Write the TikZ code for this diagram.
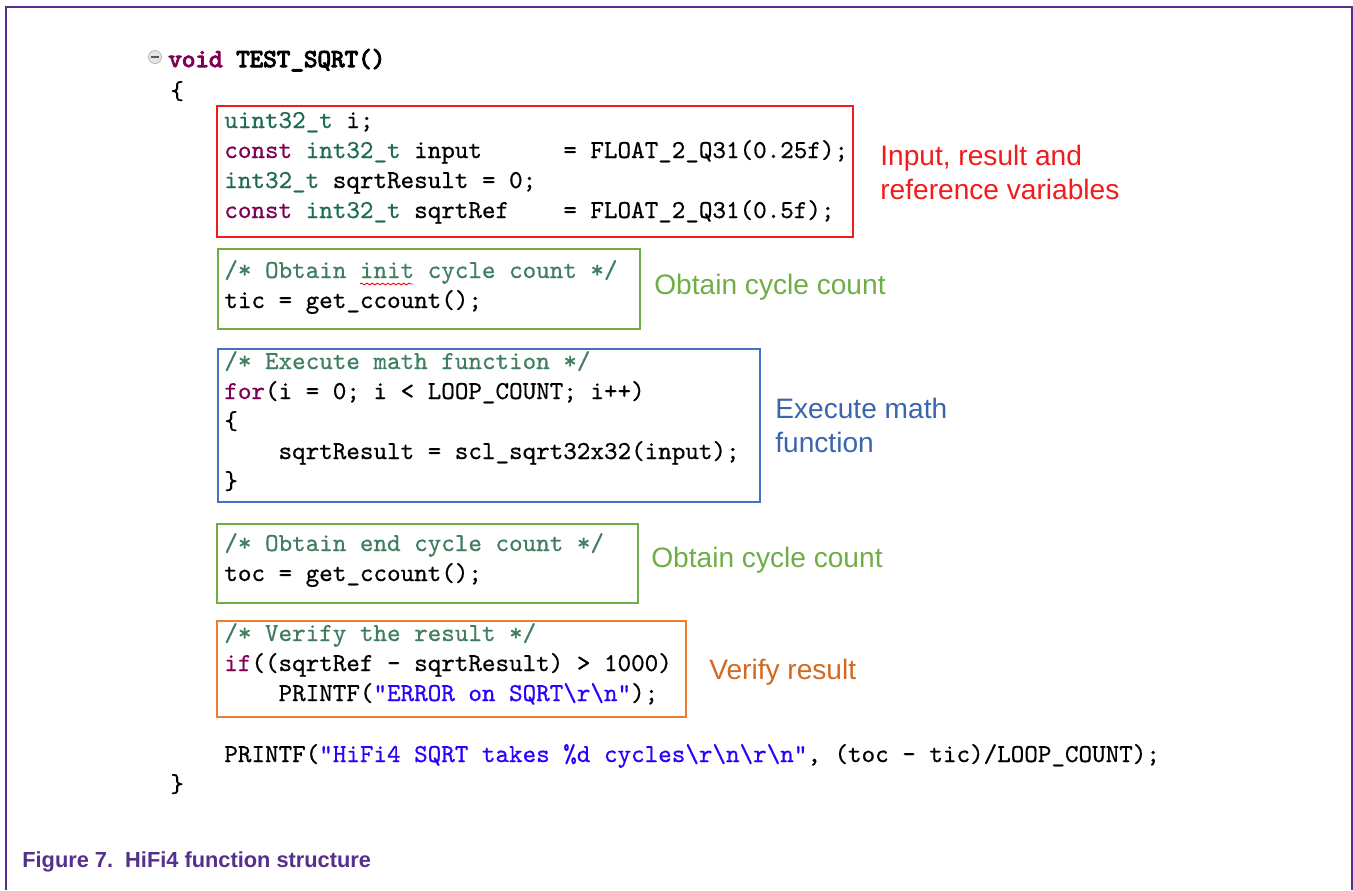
\documentclass[tikz,border=0pt]{standalone}
\usepackage{fontspec}
\setmainfont{Liberation Sans}
\newfontfamily\codefont{lmmono10-regular.otf}[FakeBold=0.6]
\newfontfamily\codeboldfont{lmmono10-regular.otf}[FakeBold=4]
\usetikzlibrary{decorations.pathmorphing}

\definecolor{nxppurple}{HTML}{55308D}
\definecolor{kwpurple}{HTML}{7F0055}
\definecolor{typeteal}{HTML}{1F6B55}
\definecolor{cmtgreen}{HTML}{3F7F5F}
\definecolor{strblue}{HTML}{2A00FF}
\definecolor{boxred}{HTML}{F21B1B}
\definecolor{boxgreen}{HTML}{70AD47}
\definecolor{boxblue}{HTML}{4472C4}
\definecolor{boxorange}{HTML}{ED7D31}
\definecolor{txtblue}{HTML}{3B64AD}
\definecolor{txtorange}{HTML}{D2691E}

\newcommand{\kw}[1]{\textcolor{kwpurple}{#1}}
\newcommand{\ty}[1]{\textcolor{typeteal}{#1}}
\newcommand{\cmt}[1]{\textcolor{cmtgreen}{#1}}
\newcommand{\strg}[1]{\textcolor{strblue}{#1}}
\newcommand{\bs}{\textbackslash}

\begin{document}
\begin{tikzpicture}[
    x=0.02cm, y=-0.02cm,
    codebox/.style={draw=#1, line width=1.4pt, inner sep=0pt},
    code/.style={anchor=base west, inner sep=0pt, font=\codefont\fontsize{14.7}{17}\selectfont},
    note/.style={anchor=west, inner sep=0pt, align=left, font=\fontsize{16}{19.3}\selectfont}
]
\useasboundingbox (0,0) rectangle (1353,890);

% Frame
\draw[nxppurple, line width=1.7pt] (6,890) -- (6,7) -- (1352,7) -- (1352,890);

% Function head
\draw[fill=gray!20, draw=gray!60] (155,57) circle (0.13cm);
\draw[gray!70!black, line width=0.7pt] (151,57) -- (159,57);
\node[code, font=\codeboldfont\fontsize{14.7}{17}\selectfont] (head) at (168,67) {\kw{void} TEST\_SQRT()};
\node[code] (open) at (170,99) {\{};

% Variables
\node[codebox=boxred, minimum width=12.72cm, minimum height=2.62cm] (varbox) at (535,171.5) {};
\node[code] (v1) at (224,128) {\ty{uint32\_t} i;};
\node[code] (v2) at (224,158) {\kw{const} \ty{int32\_t} input\ \ \ \ \ \ = FLOAT\_2\_Q31(0.25f);};
\node[code] (v3) at (224,188) {\ty{int32\_t} sqrtResult = 0;};
\node[code] (v4) at (224,218) {\kw{const} \ty{int32\_t} sqrtRef\ \ \ \ = FLOAT\_2\_Q31(0.5f);};
\node[note, text=boxred] (varnote) at (880,172) {Input, result and\\reference variables};

% Init cycle count
\node[codebox=boxgreen, minimum width=8.44cm, minimum height=1.6cm] (ticbox) at (429,289) {};
\node[code] (t1) at (224,278) {\cmt{/* Obtain init cycle count */}};
\node[code] (t2) at (224,308) {tic = get\_ccount();};
\draw[red, line width=0.5pt, decorate, decoration={snake, amplitude=0.5pt, segment length=3pt}] (360,284) -- (413,284);
\node[note, text=boxgreen] (ticnote) at (654,287) {Obtain cycle count};

% Math function
\node[codebox=boxblue, minimum width=10.84cm, minimum height=3.06cm] (mathbox) at (489,425.5) {};
\node[code] (m1) at (224,369) {\cmt{/* Execute math function */}};
\node[code] (m2) at (224,399) {\kw{for}(i = 0; i < LOOP\_COUNT; i++)};
\node[code] (m3) at (224,429) {\{};
\node[code] (m4) at (224,459) {\hphantom{xxxx}sqrtResult = scl\_sqrt32x32(input);};
\node[code] (m5) at (224,489) {\}};
\node[note, text=txtblue] (mathnote) at (775,425) {Execute math\\function};

% End cycle count
\node[codebox=boxgreen, minimum width=8.42cm, minimum height=1.58cm] (tocbox) at (427.5,563.5) {};
\node[code] (e1) at (224,551) {\cmt{/* Obtain end cycle count */}};
\node[code] (e2) at (224,581) {toc = get\_ccount();};
\node[note, text=boxgreen] (tocnote) at (651,560) {Obtain cycle count};

% Verify
\node[codebox=boxorange, minimum width=9.38cm, minimum height=1.92cm] (chkbox) at (451.5,669) {};
\node[code] (c1) at (224,641) {\cmt{/* Verify the result */}};
\node[code] (c2) at (224,671) {\kw{if}((sqrtRef - sqrtResult) > 1000)};
\node[code] (c3) at (224,701) {\hphantom{xxxx}PRINTF(\strg{"ERROR on SQRT\bs r\bs n"});};
\node[note, text=txtorange] (chknote) at (709,672) {Verify result};

% Print and close
\node[code] (out) at (224,762) {PRINTF(\strg{"HiFi4 SQRT takes \%d cycles\bs r\bs n\bs r\bs n"}, (toc - tic)/LOOP\_COUNT);};
\node[code] (close) at (170,792) {\}};

% Caption
\node[anchor=west, inner sep=0pt, text=nxppurple, font=\bfseries\fontsize{12.4}{15}\selectfont] (caption) at (22,862) {Figure 7.\ \ HiFi4 function structure};
\end{tikzpicture}
\end{document}
